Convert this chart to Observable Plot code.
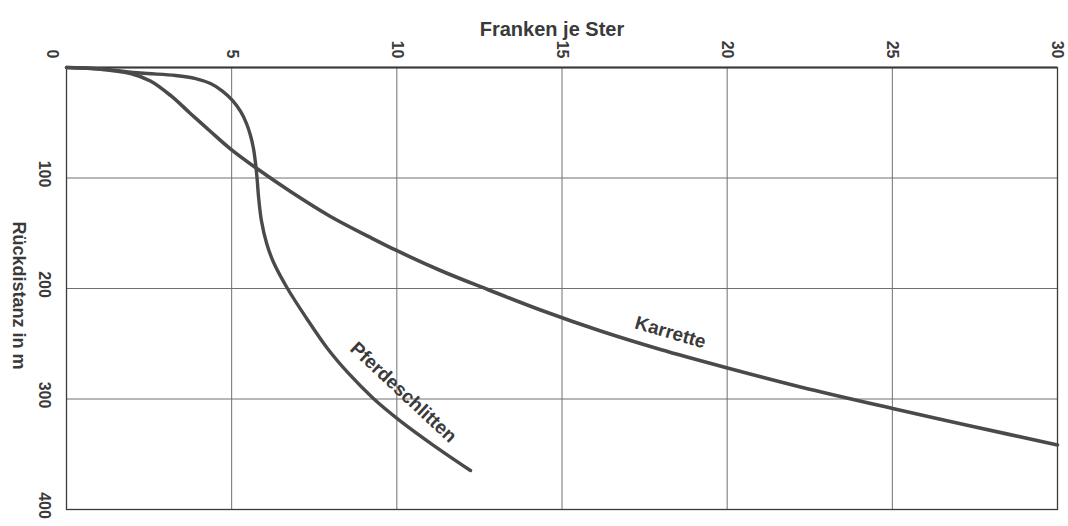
<!DOCTYPE html>
<html>
<head>
<meta charset="utf-8">
<script src="https://cdn.jsdelivr.net/npm/d3@7"></script>
<script src="https://cdn.jsdelivr.net/npm/@observablehq/plot@0.6"></script>
<style>
  html, body { margin: 0; padding: 0; background: #fff; }
  #chart svg { display: block; }
</style>
</head>
<body>
<div id="chart"></div>
<script>
// ---- data ----
const xTicks = [0, 5, 10, 15, 20, 25, 30];
const yTicks = [0, 100, 200, 300, 400];
const xLabel = "Franken je Ster";
const yLabel = "Rückdistanz in m";
const seriesNames = ["Pferdeschlitten", "Karrette"];

const pferdX = [0, 1.03, 2.24, 3.30, 3.91, 4.36, 4.72, 5.03, 5.27, 5.45, 5.57, 5.66, 5.72, 5.77, 5.81, 5.90, 6.06, 6.27, 6.69, 7.27, 7.90, 8.54, 9.29, 10.09, 11.12, 12.23];
const pferdY = [0, 1.2, 5.0, 7.2, 10.0, 14.5, 21.3, 29.9, 39.8, 50.7, 61.5, 73.3, 86.0, 100.5, 115.8, 138.5, 159.3, 176.5, 200, 227.1, 254.3, 276.9, 299.5, 319.5, 342.1, 364.7];

const karrX = [0, 1.03, 1.94, 2.54, 3.15, 3.75, 4.36, 4.97, 5.72, 6.78, 7.99, 9.20, 9.99, 11.32, 12.75, 14.35, 16.17, 17.98, 20.01, 22.22, 25.01, 27.37, 30.0];
const karrY = [0, 1.6, 5.4, 12.2, 25.3, 41.6, 57.9, 73.8, 90.5, 112.2, 134.8, 153.8, 165.6, 183.7, 200.9, 219.5, 238.5, 255.2, 271.9, 289.1, 308.6, 324.4, 341.6];

// ---- build tables ----
const pferd = pferdX.map((x, i) => ({x, y: pferdY[i]}));
const karr = karrX.map((x, i) => ({x, y: karrY[i]}));

const ink = "#3a3a3a";
const font = "'Liberation Sans', Arial, sans-serif";

const chart = Plot.plot({
  width: 1068,
  height: 526,
  marginTop: 67,
  marginBottom: 17,
  marginLeft: 66,
  marginRight: 11,
  style: {fontFamily: font, background: "#fff"},
  x: {domain: [0, 30], axis: null},
  y: {domain: [0, 400], reverse: true, axis: null},
  marks: [
    Plot.ruleX(xTicks.slice(1, -1), {stroke: "#707070", strokeWidth: 1}),
    Plot.ruleY(yTicks.slice(1, -1), {stroke: "#707070", strokeWidth: 1}),
    Plot.frame({stroke: "#3a3a3a", strokeWidth: 1.3}),
    Plot.ruleY([yTicks[0]], {stroke: "#3a3a3a", strokeWidth: 2.2}),
    Plot.line(pferd, {x: "x", y: "y", curve: "catmull-rom", stroke: "#4a4a4a", strokeWidth: 3.4}),
    Plot.line(karr, {x: "x", y: "y", curve: "catmull-rom", stroke: "#4a4a4a", strokeWidth: 3.6}),
    // x tick labels (rotated)
    Plot.text(xTicks.slice(1), {x: d => d, y: () => yTicks[0], text: d => String(d), rotate: 90, textAnchor: "end", dy: -9, fontSize: 16, fontWeight: "bold", fill: ink}),
    Plot.text([xTicks[0]], {x: d => d, y: () => yTicks[0], text: d => String(d), rotate: 90, textAnchor: "end", dx: -14, dy: -9, fontSize: 16, fontWeight: "bold", fill: ink}),
    // y tick labels (rotated)
    Plot.text(yTicks.slice(1), {x: () => xTicks[0], y: d => d, text: d => String(d), rotate: 90, textAnchor: "middle", dx: -22, dy: -4, fontSize: 16, fontWeight: "bold", fill: ink}),
    // axis titles
    Plot.text([xLabel], {frameAnchor: "top", text: d => d, dx: -10, dy: -46, fontSize: 20, fontWeight: "bold", fill: ink}),
    Plot.text([yLabel], {frameAnchor: "left", text: d => d, rotate: 90, textAnchor: "middle", dx: -48, dy: 7, fontSize: 18, fontWeight: "bold", fill: ink}),
    // series labels
    Plot.text([seriesNames[0]], {x: () => pferdX[22], y: () => pferdY[22], text: d => d, rotate: 43, dx: 30, dy: -6, fontSize: 19, fontWeight: "bold", fill: ink}),
    Plot.text([seriesNames[1]], {x: () => karrX[17], y: () => karrY[17], text: d => d, rotate: 16, dx: 10, dy: -17, fontSize: 19, fontWeight: "bold", fill: ink})
  ]
});
document.getElementById("chart").append(chart);
</script>
</body>
</html>
